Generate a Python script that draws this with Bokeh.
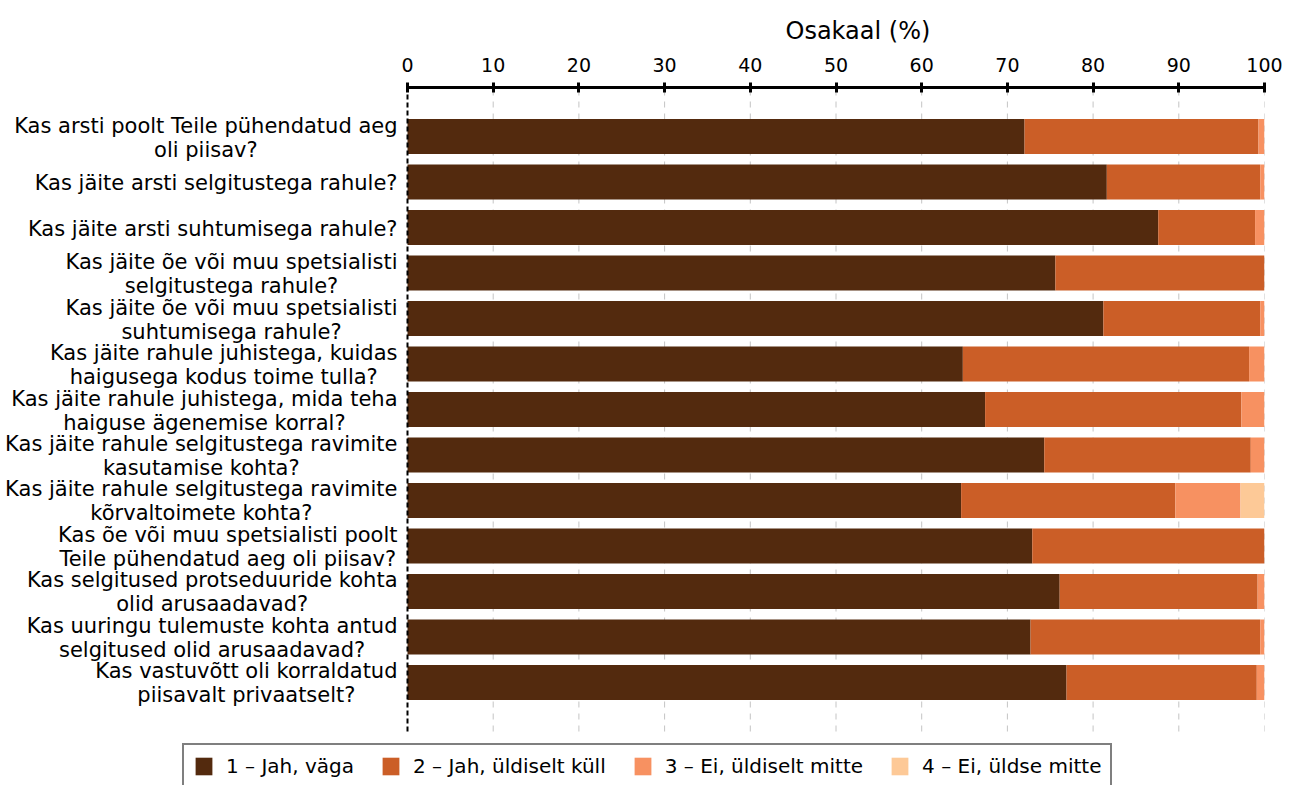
from bokeh.plotting import figure
from bokeh.models import ColumnDataSource, Range1d, FixedTicker, Legend
from bokeh.core.properties import value
from bokeh.embed import file_html
from bokeh.resources import INLINE

questions = [
    "Kas arsti poolt Teile pühendatud aeg\noli piisav?",
    "Kas jäite arsti selgitustega rahule?",
    "Kas jäite arsti suhtumisega rahule?",
    "Kas jäite õe või muu spetsialisti\nselgitustega rahule?",
    "Kas jäite õe või muu spetsialisti\nsuhtumisega rahule?",
    "Kas jäite rahule juhistega, kuidas\nhaigusega kodus toime tulla?",
    "Kas jäite rahule juhistega, mida teha\nhaiguse ägenemise korral?",
    "Kas jäite rahule selgitustega ravimite\nkasutamise kohta?",
    "Kas jäite rahule selgitustega ravimite\nkõrvaltoimete kohta?",
    "Kas õe või muu spetsialisti poolt\nTeile pühendatud aeg oli piisav?",
    "Kas selgitused protseduuride kohta\nolid arusaadavad?",
    "Kas uuringu tulemuste kohta antud\nselgitused olid arusaadavad?",
    "Kas vastuvõtt oli korraldatud\npiisavalt privaatselt?",
]
jah_vaga = [72.0, 81.6, 87.6, 75.6, 81.2, 64.8, 67.4, 74.3, 64.6, 72.9, 76.1, 72.7, 76.9]
jah_uldiselt = [27.3, 17.9, 11.3, 24.4, 18.3, 33.4, 29.9, 24.1, 25.0, 27.1, 23.1, 26.8, 22.2]
ei_uldiselt = [0.7, 0.5, 1.1, 0.0, 0.5, 1.8, 2.7, 1.6, 7.6, 0.0, 0.8, 0.5, 0.9]
ei_uldse = [0.0, 0.0, 0.0, 0.0, 0.0, 0.0, 0.0, 0.0, 2.8, 0.0, 0.0, 0.0, 0.0]
series_labels = ["1 – Jah, väga", "2 – Jah, üldiselt küll",
                 "3 – Ei, üldiselt mitte", "4 – Ei, üldse mitte"]
colors = ["#532A0E", "#CB5E27", "#F79161", "#FDC997"]
x_ticks = [0, 10, 20, 30, 40, 50, 60, 70, 80, 90, 100]

FONT = "DejaVu Sans"
keys = ["s1", "s2", "s3", "s4"]
n = len(questions)
ypos = [n - 1 - i for i in range(n)]  # first question on top
source = ColumnDataSource(dict(y=ypos, s1=jah_vaga, s2=jah_uldiselt,
                               s3=ei_uldiselt, s4=ei_uldse))

# layout geometry (pixels)
W, H = 1290, 785
plot_left, plot_right = 407, 1264     # x=0 and x=100
plot_top, plot_bottom = 87, 731       # area holding the bars
pad = 1.077                            # category padding at both ends
px_per_x = (plot_right - plot_left) / 100.0
px_per_y = (plot_bottom - plot_top) / (n - 1 + 2 * pad)
y_top = n - 1 + pad
y_bottom = y_top - (H - plot_top) / px_per_y

p = figure(width=W, height=H,
           x_range=Range1d(-plot_left / px_per_x, 100),
           y_range=Range1d(y_bottom, y_top),
           output_backend="svg", toolbar_location=None,
           x_axis_location="above",
           min_border_left=0, min_border_right=W - plot_right,
           min_border_top=plot_top, min_border_bottom=0)
p.outline_line_color = None
p.xgrid.visible = False
p.ygrid.visible = False
p.yaxis.visible = False

# dashed vertical grid lines
gx = x_ticks[1:]
p.segment(x0=gx, y0=[-pad] * len(gx), x1=gx, y1=[y_top] * len(gx),
          line_color="#c4c4c4", line_width=1, line_dash="6 6")

renderers = p.hbar_stack(keys, y="y", height=0.77, color=colors, source=source,
                         line_color=None)

# dashed zero line
p.segment(x0=[0], y0=[-pad], x1=[0], y1=[y_top], line_color="black",
          line_width=2, line_dash="5 3")

# category labels (multi-line, lines centred, block right-aligned)
p.text(x=[0] * n, y=ypos, text=questions, x_offset=-10, y_offset=1,
       anchor="center_right", text_align="center", text_baseline="middle",
       text_font=value(FONT), text_font_size="21px", text_color="black",
       text_line_height=1.0)

# top axis
xa = p.xaxis[0]
xa.ticker = FixedTicker(ticks=x_ticks)
xa.bounds = (0, 100)
xa.axis_line_width = 3
xa.axis_line_color = "black"
xa.major_tick_line_width = 3
xa.major_tick_line_color = "black"
xa.major_tick_in = 5
xa.major_tick_out = 5
xa.minor_tick_line_color = None
xa.major_label_standoff = 11
xa.major_label_text_font = FONT
xa.major_label_text_font_size = "19px"
xa.major_label_text_color = "black"

p.title.text = "Osakaal (%)"
p.title.align = "left"
p.title.offset = 785
p.title.standoff = 19
p.title.text_font = FONT
p.title.text_font_size = "24px"
p.title.text_font_style = "normal"
p.title.text_color = "black"

legend = Legend(items=[(lab, [r]) for lab, r in zip(series_labels, renderers)],
                orientation="horizontal", location=(182, -4))
legend.label_text_font = FONT
legend.label_text_font_size = "20px"
legend.label_text_color = "black"
legend.glyph_width = 21
legend.glyph_height = 22
legend.label_standoff = 12
legend.spacing = 26
legend.padding = 9
legend.margin = 0
legend.border_line_color = "black"
legend.border_line_width = 2
legend.background_fill_alpha = 1
p.add_layout(legend, "center")

open("out.html", "w").write(file_html(p, INLINE))
